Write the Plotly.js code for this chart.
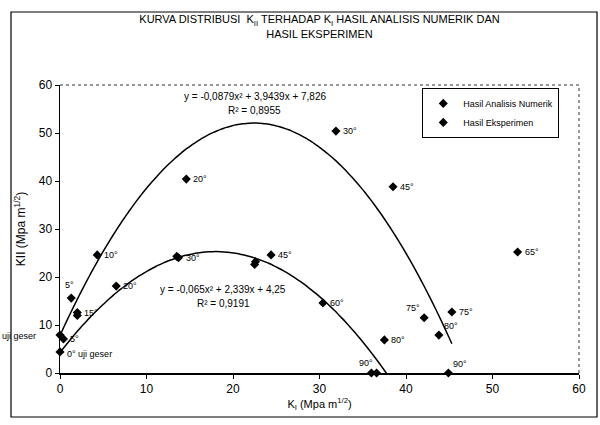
<!DOCTYPE html>
<html>
<head>
<meta charset="utf-8">
<script src="https://cdn.plot.ly/plotly-3.0.1.min.js"></script>
<style>
  html, body { margin: 0; padding: 0; background: #fff; }
  #chart { width: 600px; height: 425px; }
</style>
</head>
<body>
<div id="chart"></div>
<script>
// Hasil Analisis Numerik: K_I vs K_II with crack-angle labels
const numerikKI  = [0.0, 1.3, 4.3, 14.6, 31.9, 38.5, 45.3, 43.8, 44.9];
const numerikKII = [7.9, 15.6, 24.6, 40.4, 50.4, 38.8, 12.7, 7.9, 0.0];
const numerikLbl = ["uji geser", "5°", "10°", "20°", "30°", "45°", "75°", "80°", "90°"];

// Hasil Eksperimen
const eksKI  = [0.0, 0.4, 2.0, 2.0, 6.5, 13.7, 13.5, 22.5, 22.6, 24.4, 30.4, 52.9, 42.1, 37.5, 36.0, 36.6];
const eksKII = [4.4, 7.1, 12.0, 12.6, 18.1, 24.0, 24.3, 22.6, 23.2, 24.6, 14.6, 25.2, 11.5, 6.9, 0.0, 0.0];
const eksLbl = ["0° uji geser", "5°", "", "15°", "20°", "30°", "", "", "", "45°", "60°", "65°", "75°", "80°", "", "90°"];

// Polynomial trendlines (order 2): y = a x² + b x + c
const trendNumerik = [-0.0879, 3.9439, 7.826];
const trendEks     = [-0.065, 2.339, 4.25];
const eqNumerik = ["y = -0,0879x² + 3,9439x + 7,826", "R² = 0,8955"];
const eqEks     = ["y = -0,065x² + 2,339x + 4,25", "R² = 0,9191"];

const xTicks = [0, 10, 20, 30, 40, 50, 60];
const yTicks = [0, 10, 20, 30, 40, 50, 60];

// where each point label sits relative to its marker
const numerikPos = ["farleft", "top", "right", "right", "right", "right", "right", "topright", "topright"];
const eksPos = ["bottomright", "right", "right", "right", "right", "right", "right", "right", "right", "right",
                "right", "right", "topleft", "right", "right", "topleft"];

const PLACE = {
  right:       { xanchor: "left",   yanchor: "middle", xshift: 5,   yshift: 0 },
  farleft:     { xanchor: "right",  yanchor: "middle", xshift: -22, yshift: -1 },
  top:         { xanchor: "center", yanchor: "bottom", xshift: -2,  yshift: 6 },
  topright:    { xanchor: "left",   yanchor: "bottom", xshift: 3,   yshift: 2 },
  topleft:     { xanchor: "right",  yanchor: "bottom", xshift: -2,  yshift: 3 },
  bottomright: { xanchor: "left",   yanchor: "middle", xshift: 5,   yshift: -2 }
};

function polyCurve(coef, xMin, xMax) {
  const xs = [], ys = [];
  const n = 120;
  for (let i = 0; i <= n; i++) {
    const x = xMin + (xMax - xMin) * i / n;
    xs.push(x);
    ys.push(coef[0] * x * x + coef[1] * x + coef[2]);
  }
  return { xs, ys };
}

const curveN = polyCurve(trendNumerik, Math.min(...numerikKI), Math.max(...numerikKI));
const curveE = polyCurve(trendEks, Math.min(...eksKI), Math.max(...eksKI));

const FONT = "'Liberation Sans Narrow', 'Arial Narrow', 'Liberation Sans', Arial, sans-serif";
const labelFont = { family: FONT, size: 9, color: "#000" };

const traces = [
  {
    x: numerikKI, y: numerikKII, mode: "markers", type: "scatter", name: "Hasil Analisis Numerik",
    marker: { symbol: "diamond", size: 7, color: "#000" }, cliponaxis: false
  },
  {
    x: eksKI, y: eksKII, mode: "markers", type: "scatter", name: "Hasil Eksperimen",
    marker: { symbol: "diamond", size: 7, color: "#000" }, cliponaxis: false
  },
  {
    x: curveN.xs, y: curveN.ys, mode: "lines", type: "scatter",
    line: { color: "#000", width: 1.5, shape: "spline" }, showlegend: false, hoverinfo: "skip"
  },
  {
    x: curveE.xs, y: curveE.ys, mode: "lines", type: "scatter",
    line: { color: "#000", width: 1.5, shape: "spline" }, showlegend: false, hoverinfo: "skip"
  }
];

function pointLabels(xs, ys, labels, places) {
  const out = [];
  labels.forEach((t, i) => {
    if (!t) return;
    out.push(Object.assign({
      x: xs[i], y: ys[i], xref: "x", yref: "y", text: t, showarrow: false, font: labelFont
    }, PLACE[places[i]]));
  });
  return out;
}

const eqFont = { family: FONT, size: 10, color: "#000" };
const eqAnnotations = [
  { x: 22.5, y: 57.6, text: eqNumerik[0] },
  { x: 22.5, y: 54.6, text: eqNumerik[1] },
  { x: 18.9, y: 17.4, text: eqEks[0] },
  { x: 18.9, y: 14.5, text: eqEks[1] }
].map(a => Object.assign({ xref: "x", yref: "y", showarrow: false, font: eqFont }, a));

const annotations = eqAnnotations
  .concat(pointLabels(numerikKI, numerikKII, numerikLbl, numerikPos))
  .concat(pointLabels(eksKI, eksKII, eksLbl, eksPos));

const layout = {
  width: 600, height: 425,
  paper_bgcolor: "#fff", plot_bgcolor: "#fff",
  margin: { l: 60, r: 21, t: 85, b: 52 },
  font: { family: FONT, color: "#000" },
  title: {
    text: "KURVA DISTRIBUSI  K<sub>II</sub> TERHADAP K<sub>I</sub> HASIL ANALISIS NUMERIK DAN<br>HASIL EKSPERIMEN",
    font: { family: FONT, size: 11, color: "#000" },
    x: 0.5, xref: "paper", xanchor: "center",
    y: 0.945, yref: "container", yanchor: "top"
  },
  xaxis: {
    range: [0, 60], tickvals: xTicks, ticktext: xTicks.map(String),
    showgrid: false, zeroline: false,
    showline: true, linecolor: "#000", linewidth: 1.5, mirror: false,
    ticks: "outside", ticklen: 4, tickcolor: "#000",
    tickfont: { family: FONT, size: 12, color: "#000" },
    title: { text: "K<sub>I</sub> (Mpa m<sup>1/2</sup>)", font: { family: FONT, size: 11, color: "#000" }, standoff: 2 }
  },
  yaxis: {
    range: [0, 60], tickvals: yTicks, ticktext: yTicks.map(String),
    showgrid: false, zeroline: false,
    showline: true, linecolor: "#000", linewidth: 1.5, mirror: false,
    ticks: "outside", ticklen: 4, tickcolor: "#000",
    tickfont: { family: FONT, size: 12, color: "#000" },
    title: { text: "KII (Mpa m<sup>1/2</sup>)", font: { family: FONT, size: 12, color: "#000" }, standoff: 10 }
  },
  legend: {
    x: 0.83, y: 0.99, xanchor: "center", yanchor: "top",
    bordercolor: "#000", borderwidth: 1, bgcolor: "#fff",
    font: { family: FONT, size: 9, color: "#000" },
    tracegroupgap: 0, itemwidth: 30
  },
  showlegend: true,
  annotations: annotations,
  shapes: [
    // dotted frame of the plot area (top and right)
    { type: "line", xref: "paper", yref: "paper", x0: 0, x1: 1, y0: 1, y1: 1,
      line: { color: "#333", width: 1, dash: "dot" } },
    { type: "line", xref: "paper", yref: "paper", x0: 1, x1: 1, y0: 0, y1: 1,
      line: { color: "#333", width: 1, dash: "dot" } },
    // outer chart border
    { type: "rect", xref: "paper", yref: "paper", x0: -0.0944, x1: 1.0347, y0: -0.1528, y1: 1.2535,
      line: { color: "#000", width: 1.2 } }
  ]
};

Plotly.newPlot("chart", traces, layout, { displayModeBar: false, staticPlot: true });
</script>
</body>
</html>
